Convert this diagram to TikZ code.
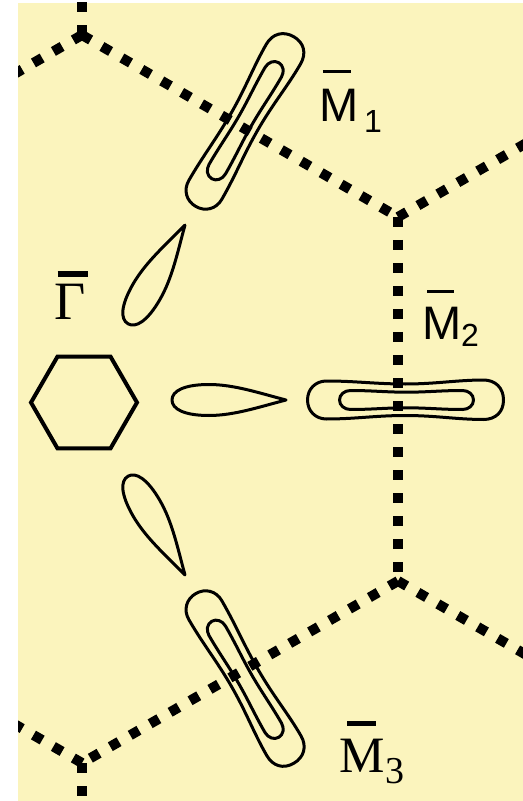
\documentclass[tikz,border=0pt]{standalone}
\usepackage{fontspec}
\setmainfont{Liberation Serif}
\setsansfont{Liberation Sans}
\definecolor{paleyellow}{RGB}{251,244,189}
% bar over a label: kern, raise, width, thickness
\newcommand{\bzbar}[4]{\rlap{\kern#1\rule[#2]{#3}{#4}}}

\begin{document}
\begin{tikzpicture}[
    x=0.5pt, y=-0.5pt,
    bzedge/.style={line width=5pt, dash pattern=on 5pt off 6.5pt},
    fsline/.style={line width=1.5pt, line join=round},
    gamhex/.style={line width=2pt, line join=miter},
    sflab/.style={font=\fontsize{23.5}{28}\selectfont\sffamily, inner sep=0pt, anchor=base west},
    rmlab/.style={font=\fontsize{25.5}{30}\selectfont\rmfamily, inner sep=0pt, anchor=base west}
]
\useasboundingbox (0,0) rectangle (523,801);
\fill[paleyellow] (18,3) rectangle (523,801);

\coordinate (gam) at (84,400);
\coordinate (bzT) at (82,35);
\coordinate (bzA) at (398,217);
\coordinate (bzB) at (398,581);
\coordinate (bzBt) at (82,763);
\coordinate (ulv) at (-234,217);
\coordinate (llv) at (-234,581);
\coordinate (urv) at (714,35);
\coordinate (lrv) at (714,763);
\coordinate (upend) at (82,-100);
\coordinate (downend) at (82,900);

% pockets and petals round Gamma
\foreach \ang in {0,60,-60} {
  \begin{scope}[shift={(gam)}, rotate=\ang]
    \draw[fsline] (202,0) .. controls (175,-7) and (150,-15.5) .. (125,-15.5)
      .. controls (100,-15.5) and (88,-9) .. (88,0)
      .. controls (88,9) and (100,15.5) .. (125,15.5)
      .. controls (150,15.5) and (175,7) .. cycle;
    \begin{scope}[shift={(321.5,0)}]
      \draw[fsline] (-98,0) .. controls (-98,-11) and (-90,-19) .. (-79,-19)
        .. controls (-50,-19) and (-30,-16) .. (0,-16)
        .. controls (30,-16) and (52,-20) .. (78,-20)
        .. controls (90,-20) and (98,-12) .. (98,0)
        .. controls (98,12) and (90,19.5) .. (78,19.5)
        .. controls (52,19.5) and (30,15.5) .. (0,15.5)
        .. controls (-30,15.5) and (-50,19) .. (-79,19)
        .. controls (-90,19) and (-98,11) .. cycle;
      \draw[fsline] (-66,0) .. controls (-66,-5.5) and (-61,-9.5) .. (-55,-9.5)
        .. controls (-34,-9.5) and (-19,-7.8) .. (1,-7.8)
        .. controls (21,-7.8) and (36,-9.5) .. (57,-9.5)
        .. controls (63,-9.5) and (68,-5.5) .. (68,0)
        .. controls (68,5.5) and (63,9.5) .. (57,9.5)
        .. controls (36,9.5) and (21,7.8) .. (1,7.8)
        .. controls (-19,7.8) and (-34,9.5) .. (-55,9.5)
        .. controls (-61,9.5) and (-66,5.5) .. cycle;
    \end{scope}
  \end{scope}
}

\draw[gamhex] (84,402.5) +(0:53) -- +(60:53) -- +(120:53) -- +(180:53)
  -- +(240:53) -- +(300:53) -- cycle;

% zone boundaries
\begin{scope}
\clip (18,3) rectangle (523,801);
\draw[bzedge] (bzT) -- (bzA);
\draw[bzedge] (bzA) -- (bzB);
\draw[bzedge] (bzB) -- (bzBt);
\draw[bzedge] (bzT) -- (ulv);
\draw[bzedge] (bzT) -- (upend);
\draw[bzedge] (bzA) -- (urv);
\draw[bzedge] (bzB) -- (lrv);
\draw[bzedge] (bzBt) -- (llv);
\draw[bzedge] (bzBt) -- (downend);
\end{scope}

\node[rmlab, font=\fontsize{27}{32}\selectfont\rmfamily] (gamlab) at (54.3,320) {\bzbar{1.4pt}{21.5pt}{15pt}{2.75pt}Γ};
\node[sflab] (m1lab) at (319,122) {\bzbar{1.7pt}{24.25pt}{14pt}{1.5pt}M\kern2.75pt\raisebox{-5.5pt}{\fontsize{16}{16}\selectfont 1}};
\node[sflab] (m2lab) at (421.6,340) {\bzbar{2.7pt}{23.25pt}{13.5pt}{1.5pt}M\raisebox{-3.5pt}{\fontsize{16}{16}\selectfont 2}};
\node[rmlab] (m3lab) at (339.4,772) {\bzbar{3.8pt}{23.25pt}{14.5pt}{2.5pt}M\raisebox{-5.5pt}{\fontsize{19}{19}\selectfont 3}};
\end{tikzpicture}
\end{document}
